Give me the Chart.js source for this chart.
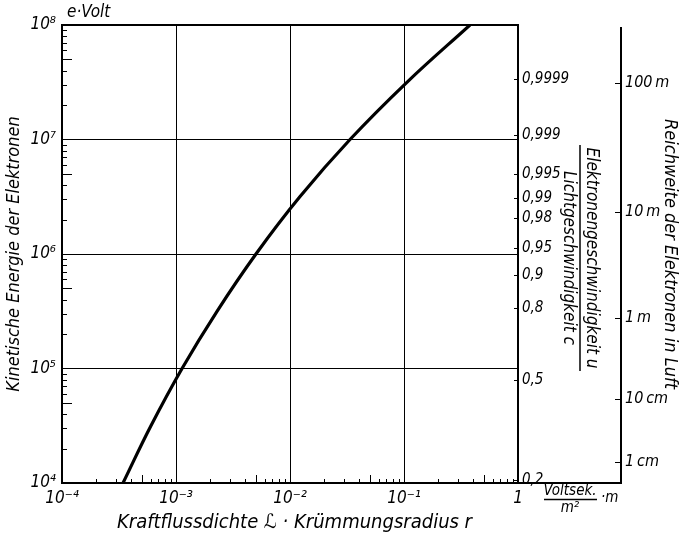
<!DOCTYPE html>
<html>
<head>
<meta charset="utf-8">
<script src="https://cdn.jsdelivr.net/npm/chart.js@4"></script>
<style>
body { margin: 0; background: #fff; }
#wrap { width: 680px; height: 539px; }
</style>
</head>
<body>
<div id="wrap"><canvas id="chart"></canvas></div>
<script>
// curve: B*r (Voltsek/m^2 * m) against kinetic energy (eV)
const fieldRadius = [3.43e-4, 6.03e-4, 1.13e-3, 2.29e-3, 5.03e-3, 1.22e-2, 3.36e-2, 0.106, 0.379];
const energy = [1e4, 3.16e4, 1e5, 3.16e5, 1e6, 3.16e6, 1e7, 3.16e7, 1e8];

const xTicks = [1e-4, 1e-3, 1e-2, 1e-1, 1];
const xTickLabels = ['10⁻⁴', '10⁻³', '10⁻²', '10⁻¹', '1'];
const yTicks = [1e4, 1e5, 1e6, 1e7, 1e8];
const yTickLabels = ['10⁴', '10⁵', '10⁶', '10⁷', '10⁸'];

// right scale: u/c, placed at the energy it belongs to
const speedLabels = ['0,2', '0,5', '0,8', '0,9', '0,95', '0,98', '0,99', '0,995', '0,999', '0,9999'];
const speedEnergy = [1.06e4, 7.9e4, 3.4e5, 6.6e5, 1.13e6, 2.06e6, 3.1e6, 5.0e6, 1.09e7, 3.4e7];

// outer scale: range in air
const rangeLabels = ['1\u2009cm', '10\u2009cm', '1\u2009m', '10\u2009m', '100\u2009m'];
const rangeEnergy = [1.52e4, 5.42e4, 2.76e5, 2.33e6, 3.11e7];

const FAMILY = '"Liberation Sans Narrow", "DejaVu Sans Condensed", sans-serif';
const f = (size) => ({ family: FAMILY, size: size, style: 'italic' });
const css = (size) => 'italic ' + size + 'px ' + FAMILY;

function setTicks(values) {
    return (scale) => { scale.ticks = values.map((v) => ({ value: v })); };
}

const extras = {
    id: 'extras',
    afterDraw(chart) {
        const { ctx, chartArea: a, scales } = chart;
        const x = scales.x, y = scales.y, ys = scales.speed, yr = scales.range;
        ctx.save();
        ctx.strokeStyle = '#000';
        ctx.fillStyle = '#000';

        // minor ticks, pointing into the plot
        ctx.lineWidth = 1;
        ctx.beginPath();
        for (let d = -4; d < 0; d++) {
            for (let k = 2; k < 10; k++) {
                const px = Math.round(x.getPixelForValue(k * Math.pow(10, d))) + 0.5;
                ctx.moveTo(px, a.bottom);
                ctx.lineTo(px, a.bottom - (k === 5 ? 8 : 4));
            }
        }
        for (let d = 4; d < 8; d++) {
            for (let k = 2; k < 10; k++) {
                const py = Math.round(y.getPixelForValue(k * Math.pow(10, d))) + 0.5;
                ctx.moveTo(a.left, py);
                ctx.lineTo(a.left + (k === 5 ? 10 : 5), py);
            }
        }
        for (const v of speedEnergy) {
            const py = Math.round(ys.getPixelForValue(v)) + 0.5;
            ctx.moveTo(a.right, py);
            ctx.lineTo(a.right - 4, py);
        }
        for (const v of rangeEnergy) {
            const py = Math.round(yr.getPixelForValue(v)) + 0.5;
            ctx.moveTo(yr.left, py);
            ctx.lineTo(yr.left - 6, py);
        }
        ctx.stroke();

        // frame and outer axis
        ctx.lineWidth = 2;
        ctx.strokeRect(a.left, a.top, a.right - a.left, a.bottom - a.top);
        ctx.beginPath();
        ctx.moveTo(a.right, a.bottom);
        ctx.lineTo(yr.left, a.bottom);
        ctx.lineTo(yr.left, a.top + 2);
        ctx.stroke();

        // unit of the energy axis
        ctx.font = css(17);
        ctx.textBaseline = 'middle';
        ctx.textAlign = 'left';
        ctx.fillText('e·Volt', 67, 13);

        // unit of the x axis
        ctx.font = css(15);
        ctx.textAlign = 'center';
        ctx.fillText('Voltsek.', 570, 491);
        ctx.fillText('m²', 570, 508);
        ctx.lineWidth = 1.5;
        ctx.beginPath();
        ctx.moveTo(544, 499.5);
        ctx.lineTo(597, 499.5);
        ctx.stroke();
        ctx.textAlign = 'left';
        ctx.fillText('·m', 601, 498);

        // u / c title of the speed scale
        ctx.translate(580, 258);
        ctx.rotate(Math.PI / 2);
        ctx.font = css(17);
        ctx.textAlign = 'center';
        ctx.fillText('Elektronengeschwindigkeit u', 0, -11);
        ctx.fillText('Lichtgeschwindigkeit c', 0, 12);
        ctx.beginPath();
        ctx.moveTo(-113, 0);
        ctx.lineTo(113, 0);
        ctx.stroke();
        ctx.restore();
    }
};

const ctx = document.getElementById('chart').getContext('2d');
const myChart = new Chart(ctx, {
    type: 'line',
    data: {
        datasets: [{
            data: fieldRadius.map((v, i) => ({ x: v, y: energy[i] })),
            borderColor: '#000',
            borderWidth: 3.2,
            pointRadius: 0,
            tension: 0.4,
            fill: false
        }]
    },
    options: {
        responsive: true,
        maintainAspectRatio: false,
        animation: false,
        layout: { padding: { top: 25, left: 0, right: 0, bottom: 0 } },
        plugins: {
            legend: { display: false },
            tooltip: { enabled: false }
        },
        scales: {
            x: {
                type: 'logarithmic',
                position: 'bottom',
                min: 1e-4,
                max: 1,
                afterBuildTicks: setTicks(xTicks),
                afterFit: (s) => { s.height = 56; },
                grid: { color: '#000', lineWidth: 1, drawTicks: false },
                border: { display: false },
                ticks: {
                    color: '#000',
                    font: f(17),
                    padding: 5,
                    autoSkip: false,
                    maxRotation: 0,
                    minRotation: 0,
                    callback: (v, i) => xTickLabels[i]
                },
                title: {
                    display: true,
                    text: '\u2002Kraftflussdichte ℒ · Krümmungsradius r',
                    color: '#000',
                    font: f(20),
                    padding: { top: 0, bottom: 4 }
                }
            },
            y: {
                type: 'logarithmic',
                position: 'left',
                min: 1e4,
                max: 1e8,
                afterBuildTicks: setTicks(yTicks),
                afterFit: (s) => { s.width = 62; },
                grid: { color: '#000', lineWidth: 1, drawTicks: false },
                border: { display: false },
                ticks: {
                    color: '#000',
                    font: f(17),
                    padding: 6,
                    autoSkip: false,
                    callback: (v, i) => yTickLabels[i]
                },
                title: {
                    display: true,
                    text: 'Kinetische Energie der Elektronen',
                    color: '#000',
                    font: f(18),
                    padding: { top: 4, bottom: 0 }
                }
            },
            speed: {
                type: 'logarithmic',
                position: 'right',
                display: true,
                min: 1e4,
                max: 1e8,
                afterBuildTicks: setTicks(speedEnergy),
                afterFit: (s) => { s.width = 103; },
                grid: { display: false, drawTicks: false },
                border: { display: false },
                ticks: {
                    color: '#000',
                    font: f(15),
                    padding: 4,
                    autoSkip: false,
                    callback: (v, i) => speedLabels[i]
                }
            },
            range: {
                type: 'logarithmic',
                position: 'right',
                display: true,
                min: 1e4,
                max: 1e8,
                afterBuildTicks: setTicks(rangeEnergy),
                afterFit: (s) => { s.width = 59; },
                grid: { display: false, drawTicks: false },
                border: { display: false },
                ticks: {
                    color: '#000',
                    font: f(16),
                    padding: 4,
                    autoSkip: false,
                    callback: (v, i) => rangeLabels[i]
                },
                title: {
                    display: true,
                    text: 'Reichweite der Elektronen in Luft',
                    color: '#000',
                    font: f(18),
                    padding: { top: 0, bottom: 0 }
                }
            }
        }
    },
    plugins: [extras]
});
</script>
</body>
</html>
